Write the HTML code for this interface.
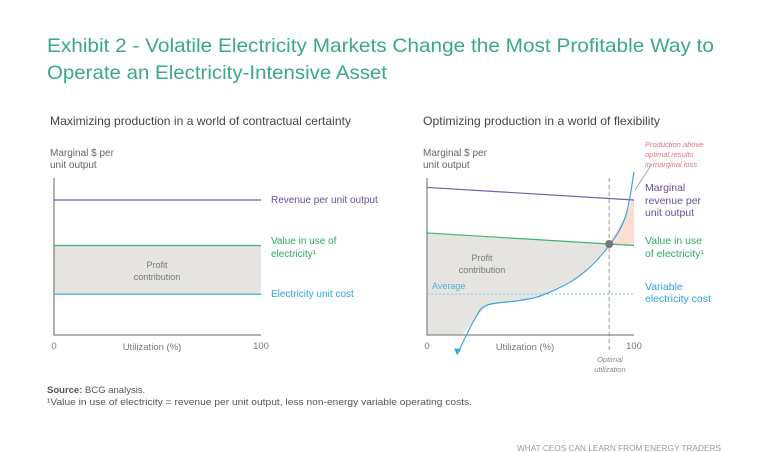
<!DOCTYPE html>
<html><head><meta charset="utf-8"><style>
body{margin:0;background:#fff}
svg{display:block;font-family:"Liberation Sans",sans-serif}
</style></head><body>
<svg width="768" height="452" viewBox="0 0 768 452">
<text x="47" y="52" font-size="19.5" fill="#3aa889" textLength="667" lengthAdjust="spacingAndGlyphs">Exhibit 2 - Volatile Electricity Markets Change the Most Profitable Way to</text>
<text x="47" y="79" font-size="19.5" fill="#3aa889" textLength="340" lengthAdjust="spacingAndGlyphs">Operate an Electricity-Intensive Asset</text>
<text x="50" y="125" font-size="12" fill="#444" textLength="301" lengthAdjust="spacingAndGlyphs">Maximizing production in a world of contractual certainty</text>
<text x="423" y="125" font-size="12" fill="#444" textLength="237" lengthAdjust="spacingAndGlyphs">Optimizing production in a world of flexibility</text>
<g id="left"></g>
<g id="right"></g>
<text x="47" y="393" font-size="9.5" fill="#555"><tspan font-weight="bold">Source:</tspan> BCG analysis.</text>
<text x="47" y="405" font-size="9.5" fill="#555" textLength="425" lengthAdjust="spacingAndGlyphs">¹Value in use of electricity = revenue per unit output, less non-energy variable operating costs.</text>
<text x="721" y="451" font-size="8" fill="#999" text-anchor="end" textLength="204" lengthAdjust="spacingAndGlyphs">WHAT CEOS CAN LEARN FROM ENERGY TRADERS</text>
</svg>
<script>
// Left chart data (values on 0-100 scale)
const leftRevenue = [86, 86];
const leftValue = [57, 57];
const leftCost = [26, 26];
// Right chart data
const rightRevenue = [94, 86];
const rightValue = [65, 57];
const rightAverage = [26, 26];
const costX = [15, 23, 29, 45, 57, 74, 88, 96, 100];
const costY = [-11, 10, 19, 22, 26, 38, 57, 76, 104];
const optimalX = [88];

const NS = "http://www.w3.org/2000/svg";
function el(parent, tag, attrs, txt){const e=document.createElementNS(NS,tag);for(const k in attrs)e.setAttribute(k,attrs[k]);if(txt!==undefined)e.textContent=txt;parent.appendChild(e);return e;}
const yS = v => 335 - v*1.57;
function xL(v){return 54 + v*2.07;}
function xR(v){return 427 + v*2.07;}

// LEFT
const L = document.getElementById('left');
let p = el(L,'polygon',{points:`${xL(0)},${yS(leftValue[0])} ${xL(100)},${yS(leftValue[1])} ${xL(100)},${yS(leftCost[1])} ${xL(0)},${yS(leftCost[0])}`,fill:'#e6e4e0'});

let a = el(L,'path',{d:`M54,178 V335 H${xL(100)}`,fill:'none',stroke:'#888','stroke-width':1.3});

const lseries=[[leftRevenue,'#7b5aa6','left-revenue-line'],[leftValue,'#3fb46f','left-value-line'],[leftCost,'#4fb2dd','left-cost-line']];
for(const [d,c,n] of lseries){const l=el(L,'line',{x1:xL(0),y1:yS(d[0]),x2:xL(100),y2:yS(d[1]),stroke:c,'stroke-width':1.3});}
const lt=[[50,156,'Marginal $ per','#666'],[50,168,'unit output','#666'],[271,203,'Revenue per unit output','#6a4c9c'],[271,244,'Value in use of','#2fa860'],[271,257,'electricity¹','#2fa860'],[271,297,'Electricity unit cost','#2ea3d6']];
for(const [x,y,t,c] of lt){const e=el(L,'text',{x,y,'font-size':10,fill:c},t);}
for(const [x,y,t] of [[157,268,'Profit'],[157,280,'contribution']]){const e=el(L,'text',{x,y,'font-size':9,fill:'#777','text-anchor':'middle'},t);}
for(const [x,y,t,an] of [[54,349,'0','middle'],[152,350,'Utilization (%)','middle'],[261,349,'100','middle']]){const e=el(L,'text',{x,y,'font-size':9.5,fill:'#777','text-anchor':an},t);}

// RIGHT
const R = document.getElementById('right');
const valAt = x => rightValue[0] + (rightValue[1]-rightValue[0])*x/100;
const revAt = x => rightRevenue[0] + (rightRevenue[1]-rightRevenue[0])*x/100;
const ox = optimalX[0];
let pts = `${xR(0)},${yS(valAt(0))} ${xR(ox)},${yS(valAt(ox))} `;
for(let i=costX.length-1;i>=0;i--){ if(costX[i]<=ox && costY[i]>=0) pts+=`${xR(costX[i])},${yS(costY[i])} `; }
pts += `${xR(17)},${yS(0)} ${xR(0)},${yS(0)}`;
p = el(R,'polygon',{points:pts,fill:'#e6e4e0'});

let pp = `${xR(ox)},${yS(valAt(ox))} `;
for(let i=0;i<costX.length;i++){ if(costX[i]>ox && costY[i]<=revAt(costX[i])) pp+=`${xR(costX[i])},${yS(costY[i])} `; }
pp += `${xR(99)},${yS(revAt(99))} ${xR(100)},${yS(revAt(100))} ${xR(100)},${yS(valAt(100))}`;
p = el(R,'polygon',{points:pp,fill:'#fbdcd6'});

a = el(R,'path',{d:`M427,178 V335 H${xR(100)}`,fill:'none',stroke:'#888','stroke-width':1.3});

let l = el(R,'line',{x1:xR(0),y1:yS(rightRevenue[0]),x2:xR(100),y2:yS(rightRevenue[1]),stroke:'#7b5aa6','stroke-width':1.2});

l = el(R,'line',{x1:xR(0),y1:yS(rightValue[0]),x2:xR(100),y2:yS(rightValue[1]),stroke:'#3fb46f','stroke-width':1.2});

l = el(R,'line',{x1:xR(0),y1:yS(rightAverage[0]),x2:xR(100),y2:yS(rightAverage[1]),stroke:'#7cc6e8','stroke-width':1,'stroke-dasharray':'2,2'});

l = el(R,'line',{x1:xR(ox),y1:178,x2:xR(ox),y2:352,stroke:'#999','stroke-width':1,'stroke-dasharray':'4,3'});

const cp = costX.map((x,i)=>[xR(x),yS(costY[i])]);
let d = `M${cp[0][0]},${cp[0][1]}`;
for(let i=0;i<cp.length-1;i++){const p0=cp[Math.max(0,i-1)],p1=cp[i],p2=cp[i+1],p3=cp[Math.min(cp.length-1,i+2)];
d+=` C${p1[0]+(p2[0]-p0[0])/6},${p1[1]+(p2[1]-p0[1])/6} ${p2[0]-(p3[0]-p1[0])/6},${p2[1]-(p3[1]-p1[1])/6} ${p2[0]},${p2[1]}`;}
l = el(R,'path',{d,fill:'none',stroke:'#3aa6dc','stroke-width':1.2});

l = el(R,'polygon',{points:`${cp[0][0]-4},${cp[0][1]-4} ${cp[0][0]+3},${cp[0][1]-3} ${cp[0][0]-1},${cp[0][1]+3}`,fill:'#3aa6dc'});

l = el(R,'circle',{cx:xR(ox),cy:yS(valAt(ox)),r:4,fill:'#777'});

l = el(R,'line',{x1:xR(100)+1,y1:190,x2:xR(100)+18,y2:164,stroke:'#999','stroke-width':0.8});

const rt=[[423,156,'Marginal $ per','#666',10,''],[423,168,'unit output','#666',10,''],
[645,191,'Marginal','#6a4c9c',10.5,''],[645,204,'revenue per','#6a4c9c',10.5,''],[645,216,'unit output','#6a4c9c',10.5,''],
[645,244,'Value in use','#2fa860',10.5,''],[645,257,'of electricity¹','#2fa860',10.5,''],
[645,290,'Variable','#2ea3d6',10.5,''],[645,302,'electricity cost','#2ea3d6',10.5,''],
[432,289,'Average','#4fb2dd',9,''],
[645,147,'Production above','#e8737a',7.5,'italic'],[645,157,'optimal results','#e8737a',7.5,'italic'],[645,167,'in marginal loss','#e8737a',7.5,'italic']];
for(const [x,y,t,c,s,st] of rt){const e=el(R,'text',{x,y,'font-size':s,fill:c,'font-style':st||'normal'},t);}
for(const [x,y,t] of [[482,261,'Profit'],[482,273,'contribution']]){const e=el(R,'text',{x,y,'font-size':9,fill:'#777','text-anchor':'middle'},t);}
for(const [x,y,t] of [[427,349,'0'],[525,350,'Utilization (%)'],[634,349,'100']]){const e=el(R,'text',{x,y,'font-size':9.5,fill:'#777','text-anchor':'middle'},t);}
for(const [x,y,t] of [[610,362,'Optimal'],[610,372,'utilization']]){const e=el(R,'text',{x,y,'font-size':7.5,fill:'#888','font-style':'italic','text-anchor':'middle'},t);}
</script>
</body></html>
